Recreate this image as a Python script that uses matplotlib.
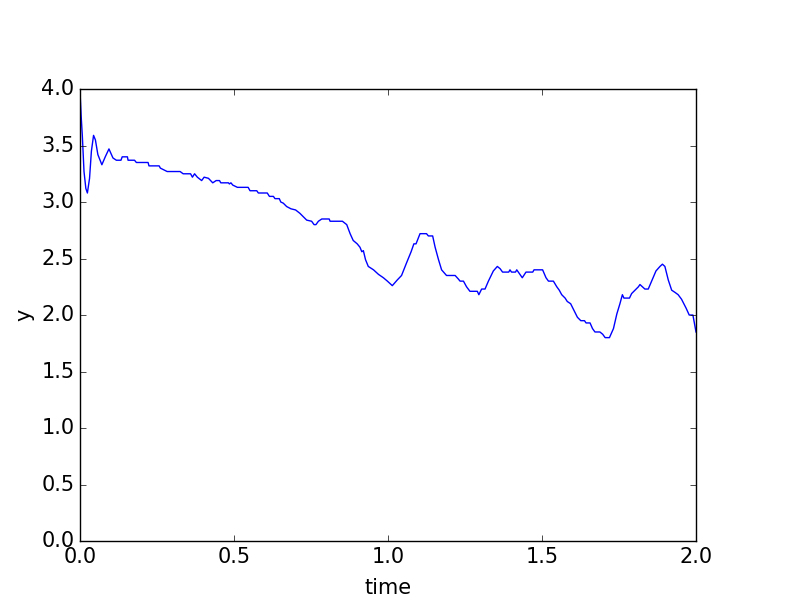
import matplotlib
matplotlib.use('Agg')
import matplotlib.pyplot as plt

# values
time = [0.000, 0.004, 0.0075, 0.013, 0.019, 0.024, 0.031, 0.037, 0.044, 0.050,
        0.058, 0.071, 0.082, 0.094, 0.107, 0.118, 0.133, 0.137, 0.154, 0.156,
        0.177, 0.183, 0.221, 0.224, 0.257, 0.261, 0.283, 0.325, 0.335, 0.359,
        0.365, 0.372, 0.381, 0.395, 0.403, 0.417, 0.431, 0.442, 0.453, 0.457,
        0.482, 0.485, 0.490, 0.496, 0.511, 0.546, 0.552, 0.574, 0.579, 0.608,
        0.615, 0.628, 0.633, 0.647, 0.652, 0.660, 0.671, 0.685, 0.700, 0.714,
        0.725, 0.736, 0.752, 0.760, 0.766, 0.774, 0.785, 0.809, 0.812, 0.852,
        0.866, 0.877, 0.887, 0.900, 0.909, 0.915, 0.920, 0.927, 0.936, 0.953,
        0.969, 0.985, 0.998, 1.014, 1.030, 1.044, 1.060, 1.075, 1.084, 1.091,
        1.104, 1.125, 1.131, 1.145, 1.153, 1.164, 1.174, 1.190, 1.218, 1.228,
        1.234, 1.245, 1.255, 1.266, 1.290, 1.295, 1.304, 1.315, 1.326, 1.342,
        1.355, 1.364, 1.372, 1.392, 1.396, 1.401, 1.414, 1.418, 1.436, 1.448,
        1.470, 1.474, 1.502, 1.513, 1.521, 1.537, 1.548, 1.556, 1.564, 1.575,
        1.582, 1.593, 1.604, 1.615, 1.626, 1.638, 1.643, 1.656, 1.664, 1.672,
        1.688, 1.697, 1.705, 1.719, 1.732, 1.743, 1.753, 1.761, 1.766, 1.784,
        1.791, 1.802, 1.813, 1.818, 1.826, 1.834, 1.845, 1.856, 1.870, 1.883,
        1.891, 1.899, 1.910, 1.921, 1.932, 1.942, 1.953, 1.968, 1.978, 1.990,
        2.000]
y = [3.98, 3.75, 3.59, 3.27, 3.12, 3.08, 3.21, 3.45, 3.59, 3.55,
     3.42, 3.33, 3.40, 3.47, 3.39, 3.37, 3.37, 3.40, 3.40, 3.37,
     3.37, 3.35, 3.35, 3.32, 3.32, 3.30, 3.27, 3.27, 3.25, 3.25,
     3.22, 3.25, 3.22, 3.19, 3.22, 3.21, 3.17, 3.19, 3.19, 3.17,
     3.17, 3.16, 3.17, 3.15, 3.13, 3.13, 3.10, 3.10, 3.08, 3.08,
     3.05, 3.05, 3.03, 3.03, 3.00, 2.99, 2.96, 2.94, 2.93, 2.90,
     2.87, 2.84, 2.83, 2.80, 2.80, 2.83, 2.85, 2.85, 2.83, 2.83,
     2.80, 2.72, 2.66, 2.63, 2.60, 2.56, 2.57, 2.49, 2.43, 2.40,
     2.36, 2.33, 2.30, 2.26, 2.31, 2.35, 2.46, 2.56, 2.63, 2.63,
     2.72, 2.72, 2.70, 2.70, 2.60, 2.49, 2.40, 2.35, 2.35, 2.32,
     2.30, 2.30, 2.25, 2.21, 2.21, 2.18, 2.23, 2.23, 2.30, 2.39,
     2.43, 2.41, 2.38, 2.38, 2.40, 2.38, 2.38, 2.40, 2.33, 2.38,
     2.38, 2.40, 2.40, 2.33, 2.30, 2.30, 2.25, 2.22, 2.18, 2.15,
     2.12, 2.10, 2.04, 1.98, 1.95, 1.95, 1.93, 1.93, 1.88, 1.85,
     1.85, 1.83, 1.80, 1.80, 1.88, 2.01, 2.10, 2.18, 2.15, 2.15,
     2.19, 2.22, 2.25, 2.27, 2.25, 2.23, 2.23, 2.30, 2.39, 2.43,
     2.45, 2.43, 2.31, 2.22, 2.20, 2.18, 2.14, 2.06, 2.00, 2.00,
     1.85]

plt.style.use('classic')
plt.rcParams['font.family'] = ['DejaVu Sans']
plt.rcParams['font.size'] = 15
plt.rcParams['savefig.facecolor'] = 'white'

fig = plt.figure(figsize=(8, 6), dpi=100, facecolor='white')
ax = fig.add_axes([0.1, 0.0983, 0.77, 0.7533])
ax.plot(time, y, color='b', linewidth=1)
ax.set_xlim(0, 2)
ax.set_ylim(0, 4)
ax.set_xlabel('time', labelpad=8)
ax.set_ylabel('y')

fig.savefig('out.png', dpi=100, facecolor='white')
